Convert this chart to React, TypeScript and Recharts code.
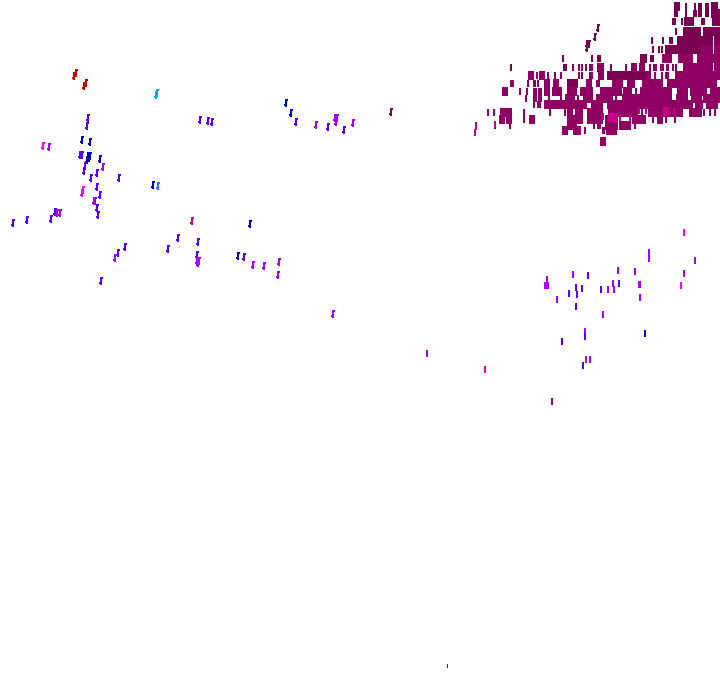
import React from 'react';
import { ScatterChart, Scatter, XAxis, YAxis } from 'recharts';

type P = [number, number];

const red: P[] = [[75.5, 73], [74, 75.5], [85.5, 83], [84, 86]];
const cyan: P[] = [[156.8, 92.5], [156, 95]];
const sky: P[] = [[157.7, 186]];
const blueLeft: P[] = [[81.7, 140], [89.7, 141.7], [87.5, 156], [89.5, 156], [88.5, 158], [86.7, 160], [99.7, 159], [153, 185.3], [286, 103.3], [291, 113], [250, 224.3], [238, 255.7]];
const indigoLeft: P[] = [[88.3, 117.7], [87, 126], [200.3, 119.7], [207.7, 120.7], [212.3, 122], [79.5, 155], [81.5, 155], [85.3, 166], [84.3, 170.7], [97, 173.3], [90.7, 178.3], [119, 178.3], [96.7, 187.3], [100, 195.3], [95.3, 201.3], [97, 208.3], [98, 215.3], [55, 212.3], [51, 218.7], [13.3, 223], [27.3, 220], [178.3, 238.3], [198.3, 241.7], [167.7, 249], [125, 247.3], [118.3, 252.7], [101.3, 280.7], [196.7, 255], [296, 122], [327.7, 127], [343.7, 129.7], [244.3, 256.7]];
const purpleLeft: P[] = [[48.7, 147], [103.3, 167.3], [94, 200.7], [57.5, 213], [59.5, 213], [114.7, 258.3], [197, 261], [199, 261], [197.5, 263], [316.3, 125], [335, 118], [337, 118], [335.7, 122], [352.7, 122.7], [253.3, 264.7], [263.7, 266], [278.7, 262], [278.3, 274.7], [332.7, 313.7]];
const magentaLeft: P[] = [[42.7, 145.7], [83, 190], [82, 192.5]];
const rose: P[] = [[192.3, 221]];
const maroonSingle: P[] = [[391.3, 112], [598, 28], [595, 37], [587, 44], [589, 44], [587, 48]];

const magentaRight: P[] = [[684, 233.3], [681, 286.3]];
const purpleRight: P[] = [[649, 252.7], [649, 259.3], [695, 260.7], [684, 273.7], [573, 275.3], [618, 271.3], [635, 272.3], [547, 280], [545, 286], [547, 286], [548, 286], [612.7, 284], [608, 290], [614, 290.3], [638.7, 284.7], [640, 284.7], [640, 297.7], [557, 299.7], [603, 315], [585, 332], [586, 360.3], [589.7, 360], [427, 353.7]];
const indigoRight: P[] = [[588, 276.3], [575.7, 288], [582, 289], [577, 295], [569, 294], [601, 289.7], [619, 284.3], [576.3, 307], [585, 337.3], [562, 342], [583, 366]];
const blueRight: P[] = [[645, 334]];
const hotPink: P[] = [[485, 370]];
const berry: P[] = [[552, 402]];
const tiny: P[] = [[447, 666]];

const darkTileRows: number[][] = [
  [7, 677, 714, 715],
  [14, 714, 717],
  [22, 687, 691, 715, 717],
  [32, 686, 692, 698, 706, 712, 717],
  [41, 680, 686, 692, 698, 704, 710, 717],
  [50, 668, 674, 680, 686, 692, 698],
  [59, 643, 644],
  [76, 610, 616, 622, 628, 634, 640, 642],
  [84, 570, 575],
];
const darkStemRows: number[][] = [
  [7, 686, 695, 699, 701, 706, 708],
  [14, 675, 677, 686, 694, 696, 699, 701, 706, 708],
  [22, 673, 675, 682, 702, 704],
  [32, 676],
  [41, 652, 663, 670, 672],
  [50, 653, 659, 662],
  [59, 651, 653, 563, 592, 598, 600],
  [68, 511, 564, 566],
];
const mainTileRows: number[][] = [
  [50, 704, 710, 717],
  [59, 665, 669, 681, 687, 690, 700, 706, 712, 717],
  [68, 600, 601, 634, 642, 686, 692, 698, 704, 710, 717],
  [76, 531, 542, 601, 648, 678, 684, 690, 696, 702, 708, 714, 717],
  [84, 547, 556, 589, 615, 620, 630, 632, 645, 651, 657, 660, 670, 676, 682, 688, 694, 700, 706, 712, 714],
  [92, 505, 547, 555, 559, 570, 574, 583, 589, 590, 603, 609, 615, 619, 626, 629, 643, 649, 655, 661, 667, 669, 680, 685, 693, 699, 704, 713, 717],
  [99, 568, 572, 586, 590, 599, 605, 610, 625, 631, 637, 643, 649, 655, 661, 667, 669, 679, 685, 694, 699, 706, 712, 717],
  [105, 547, 553, 559, 565, 571, 577, 583, 584, 594, 600, 610, 616, 622, 628, 634, 640, 646, 652, 658, 664, 670, 676, 682, 688, 690, 698, 700, 709, 715],
  [113, 503, 509, 570, 578, 580, 590, 596, 600, 611, 617, 623, 629, 635, 651, 657, 663, 669, 675, 680, 692, 698, 699],
  [120, 502, 509, 532, 570, 574, 578, 580, 590, 596, 600, 608, 614, 615, 635, 641, 643, 660],
  [126, 570, 574, 608, 614, 615, 622, 628],
  [131, 565, 576, 578, 609, 614],
  [142, 603],
];
const mainStemRows: number[][] = [
  [68, 573, 579, 582, 586, 590, 592, 611, 626, 650, 654, 656, 661, 663, 667, 668, 673, 676],
  [76, 537, 548, 555, 561, 579, 582, 590, 592, 655, 662, 666, 668],
  [84, 511, 513, 528, 534, 535, 538, 597, 599],
  [92, 520, 527, 534, 536, 539, 541, 636],
  [99, 526, 534, 536, 539, 541, 549, 561, 578, 616],
  [105, 534, 538, 540],
  [113, 494, 488, 524, 550, 565, 642, 704, 710, 715],
  [120, 524, 653, 666, 675],
  [126, 476, 495, 510, 594, 598, 600, 635],
  [131, 585, 603, 604],
];
const pinkStems: P[] = [[639, 111], [646, 111], [674, 112], [603, 117], [620, 118], [630, 119], [495, 125], [475.7, 127], [474.7, 133]];
const pinkTiles: P[] = [[611, 118], [614, 118], [666, 112]];

const toPoints = (list: P[]) => list.map(([x, y]) => ({ x, y }));
const fromRows = (rows: number[][]) =>
  rows.flatMap(([y, ...xs]) => xs.map((x) => ({ x, y })));

const Slant = ({ cx, cy, fill }: any) => {
  const x = Math.round(cx);
  const y = Math.round(cy);
  return (
    <g fill={fill} shapeRendering="crispEdges">
      <rect x={x - 1} y={y - 4} width={2} height={8} />
      <rect x={x + 1} y={y - 4} width={1} height={2} />
      <rect x={x - 2} y={y + 1} width={1} height={2} />
    </g>
  );
};
const Stem = ({ cx, cy, fill }: any) => (
  <rect x={Math.round(cx) - 1} y={Math.round(cy) - 4} width={2} height={7} fill={fill} shapeRendering="crispEdges" />
);
const Tile = ({ cx, cy, fill }: any) => (
  <rect x={Math.round(cx) - 3} y={Math.round(cy) - 5} width={6} height={9} fill={fill} shapeRendering="crispEdges" />
);
const Tiny = ({ cx, cy, fill }: any) => (
  <rect x={Math.round(cx)} y={Math.round(cy) - 2} width={1} height={4} fill={fill} shapeRendering="crispEdges" />
);

const series: { name: string; pts: { x: number; y: number }[]; fill: string; shape: any }[] = [
  { name: 'darkTiles', pts: fromRows(darkTileRows), fill: '#7a0052', shape: Tile },
  { name: 'darkStems', pts: fromRows(darkStemRows), fill: '#7a0052', shape: Stem },
  { name: 'mainTiles', pts: fromRows(mainTileRows), fill: '#900062', shape: Tile },
  { name: 'mainStems', pts: fromRows(mainStemRows), fill: '#900062', shape: Stem },
  { name: 'pinkTiles', pts: toPoints(pinkTiles), fill: '#c80088', shape: Tile },
  { name: 'pinkStems', pts: toPoints(pinkStems), fill: '#c80088', shape: Stem },
  { name: 'maroon', pts: toPoints(maroonSingle), fill: '#7a0052', shape: Slant },
  { name: 'red', pts: toPoints(red), fill: '#cc0000', shape: Slant },
  { name: 'cyan', pts: toPoints(cyan), fill: '#00aaff', shape: Slant },
  { name: 'sky', pts: toPoints(sky), fill: '#2277ff', shape: Slant },
  { name: 'blueLeft', pts: toPoints(blueLeft), fill: '#0000cc', shape: Slant },
  { name: 'indigoLeft', pts: toPoints(indigoLeft), fill: '#5500ff', shape: Slant },
  { name: 'purpleLeft', pts: toPoints(purpleLeft), fill: '#aa00ff', shape: Slant },
  { name: 'magentaLeft', pts: toPoints(magentaLeft), fill: '#ff00ff', shape: Slant },
  { name: 'rose', pts: toPoints(rose), fill: '#cc0088', shape: Slant },
  { name: 'magentaRight', pts: toPoints(magentaRight), fill: '#ff00ff', shape: Stem },
  { name: 'purpleRight', pts: toPoints(purpleRight), fill: '#aa00ff', shape: Stem },
  { name: 'indigoRight', pts: toPoints(indigoRight), fill: '#5500ff', shape: Stem },
  { name: 'blueRight', pts: toPoints(blueRight), fill: '#0000cc', shape: Stem },
  { name: 'hotPink', pts: toPoints(hotPink), fill: '#ff0099', shape: Stem },
  { name: 'berry', pts: toPoints(berry), fill: '#aa0066', shape: Stem },
  { name: 'tiny', pts: toPoints(tiny), fill: '#7a0052', shape: Tiny },
];

export default function App() {
  return (
    <div style={{ position: 'absolute', left: 0, top: 0, width: 720, height: 692, background: '#fff' }}>
      <ScatterChart width={720} height={692} margin={{ top: 0, right: 0, bottom: 0, left: 0 }}>
        <XAxis type="number" dataKey="x" domain={[0, 720]} hide />
        <YAxis type="number" dataKey="y" domain={[0, 692]} reversed hide />
        {series.map((s) => (
          <Scatter key={s.name} name={s.name} data={s.pts} fill={s.fill} shape={s.shape} isAnimationActive={false} />
        ))}
      </ScatterChart>
    </div>
  );
}
